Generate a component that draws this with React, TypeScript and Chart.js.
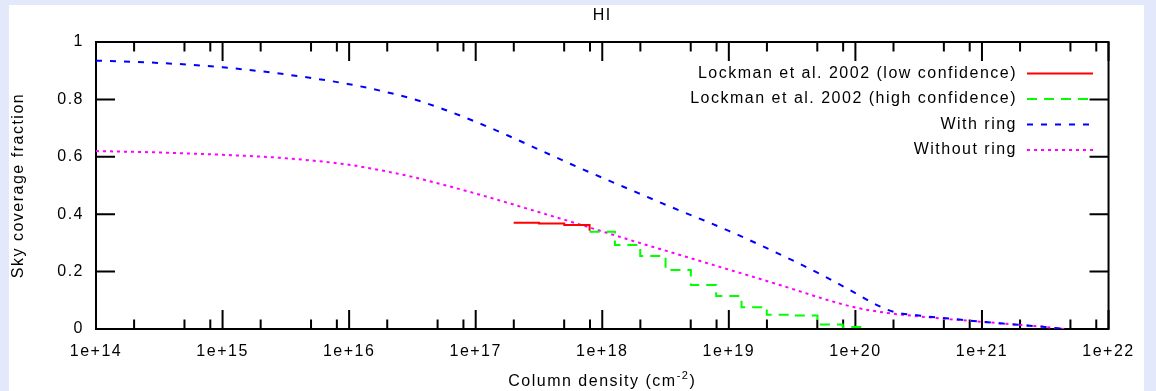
import React, { useEffect, useRef } from "react";
import { Chart, registerables } from "chart.js";

Chart.register(...registerables);

const FONT_FAMILY = '"Liberation Sans", Arial, Helvetica, sans-serif';
const FONT_SIZE = 16;
const LETTER_SPACING = "1.5px";

const titleText = "HI";
const xAxisTitle = "Column density (cm";
const xAxisTitleSup = "-2";
const xAxisTitleEnd = ")";
const yAxisTitle = "Sky coverage fraction";

// Axis ticks: decades of column density, minor marks at 2, 5 and 8 of each decade
const xDecades = [14, 15, 16, 17, 18, 19, 20, 21, 22];
const xMinorMantissas = [2, 5, 8];
const yTickValues = [0, 0.2, 0.4, 0.6, 0.8, 1];

const seriesLabels = [
  "Lockman et al. 2002 (low confidence)",
  "Lockman et al. 2002 (high confidence)",
  "With ring",
  "Without ring",
];

// Lockman et al. (2002): log10 N(HI) bin starts and sky coverage fraction
const lowConfLogN = [17.3, 17.5, 17.7, 17.9];
const lowConfFrac = [0.37, 0.368, 0.362, 0.342];
const highConfLogN = [17.9, 18.1, 18.3, 18.5, 18.7, 18.9, 19.1, 19.3, 19.5, 19.7, 19.9, 20.1];
const highConfFrac = [0.339, 0.293, 0.254, 0.206, 0.153, 0.115, 0.076, 0.05, 0.047, 0.016, 0.007, 0.007];

// Model curves
const withRingLogN = [
  14.0, 14.5, 15.0, 15.5, 16.0, 16.25, 16.5, 16.75, 17.0, 17.25, 17.5, 17.75, 18.0, 18.25,
  18.5, 18.75, 19.0, 19.25, 19.5, 19.75, 20.0, 20.15, 20.3, 20.5, 20.75, 21.0, 21.25, 21.5, 21.65,
];
const withRingFrac = [
  0.935, 0.927, 0.912, 0.887, 0.853, 0.83, 0.802, 0.765, 0.722, 0.675, 0.625, 0.575, 0.527, 0.48,
  0.433, 0.388, 0.342, 0.292, 0.24, 0.185, 0.125, 0.088, 0.06, 0.047, 0.036, 0.025, 0.016, 0.007, 0.0,
];
const withoutRingLogN = [
  14.0, 14.5, 15.0, 15.5, 16.0, 16.25, 16.5, 16.75, 17.0, 17.25, 17.5, 17.75, 18.0, 18.25,
  18.5, 18.75, 19.0, 19.25, 19.5, 19.75, 20.0, 20.25, 20.5, 20.75, 21.0, 21.25, 21.5, 21.65,
];
const withoutRingFrac = [
  0.62, 0.615, 0.607, 0.595, 0.572, 0.553, 0.53, 0.502, 0.472, 0.44, 0.407, 0.374, 0.34, 0.306,
  0.273, 0.24, 0.207, 0.174, 0.14, 0.105, 0.075, 0.056, 0.044, 0.034, 0.025, 0.016, 0.007, 0.0,
];

const seriesColors = ["#ff0000", "#00ff00", "#0000ff", "#ff00ff"];
const seriesDashes: number[][] = [[], [10, 7], [6, 8], [3, 4]];

const CANVAS_W = 1135;
const CANVAS_H = 386;
const MAJOR_TICK = 19;
const MINOR_TICK = 9.5;

const toPoints = (logN: number[], frac: number[]) =>
  logN.map((e, i) => ({ x: Math.pow(10, e), y: frac[i] }));

const font = (size = FONT_SIZE) => `${size}px ${FONT_FAMILY}`;

const framePlugin = {
  id: "gnuFrame",
  beforeDraw(chart: any) {
    chart.ctx.letterSpacing = LETTER_SPACING;
  },
  beforeDatasetsDraw(chart: any) {
    const { ctx, chartArea: a, scales } = chart;
    const xs = scales.x;
    const ys = scales.y;
    ctx.save();
    ctx.strokeStyle = "#000";
    ctx.lineWidth = 2;
    ctx.setLineDash([]);
    ctx.beginPath();
    xDecades.forEach((e, i) => {
      const px = xs.getPixelForValue(Math.pow(10, e));
      ctx.moveTo(px, a.bottom);
      ctx.lineTo(px, a.bottom - MAJOR_TICK);
      ctx.moveTo(px, a.top);
      ctx.lineTo(px, a.top + MAJOR_TICK);
      if (i < xDecades.length - 1) {
        xMinorMantissas.forEach((m) => {
          const mx = xs.getPixelForValue(m * Math.pow(10, e));
          ctx.moveTo(mx, a.bottom);
          ctx.lineTo(mx, a.bottom - MINOR_TICK);
          ctx.moveTo(mx, a.top);
          ctx.lineTo(mx, a.top + MINOR_TICK);
        });
      }
    });
    yTickValues.forEach((v) => {
      const py = ys.getPixelForValue(v);
      ctx.moveTo(a.left, py);
      ctx.lineTo(a.left + MAJOR_TICK, py);
      ctx.moveTo(a.right, py);
      ctx.lineTo(a.right - MAJOR_TICK, py);
    });
    ctx.stroke();
    ctx.strokeRect(a.left, a.top, a.right - a.left, a.bottom - a.top);
    ctx.restore();
  },
  afterDraw(chart: any) {
    const { ctx, chartArea: a } = chart;
    const cx = (a.left + a.right) / 2;
    ctx.save();
    ctx.letterSpacing = LETTER_SPACING;
    ctx.fillStyle = "#000";
    ctx.font = font();
    ctx.textBaseline = "alphabetic";

    // Title
    ctx.textAlign = "center";
    ctx.fillText(titleText, cx, 15);

    // X axis title with superscript
    ctx.textAlign = "left";
    ctx.font = font();
    const w1 = ctx.measureText(xAxisTitle).width;
    const w3 = ctx.measureText(xAxisTitleEnd).width;
    ctx.font = font(11);
    const w2 = ctx.measureText(xAxisTitleSup).width;
    let x0 = cx - (w1 + w2 + w3) / 2;
    const base = 381;
    ctx.font = font();
    ctx.fillText(xAxisTitle, x0, base);
    x0 += w1;
    ctx.font = font(11);
    ctx.fillText(xAxisTitleSup, x0, base - 7);
    x0 += w2;
    ctx.font = font();
    ctx.fillText(xAxisTitleEnd, x0, base);

    // Y axis title
    ctx.save();
    ctx.translate(14, (a.top + a.bottom) / 2);
    ctx.rotate(-Math.PI / 2);
    ctx.textAlign = "center";
    ctx.fillText(yAxisTitle, 0, 0);
    ctx.restore();

    // Key
    const rows = [31.5, 57, 82.5, 108];
    const textRight = 1008;
    const lineX1 = 1018;
    const lineX2 = 1084;
    chart.data.datasets.forEach((ds: any, i: number) => {
      const y = a.top + rows[i];
      ctx.textAlign = "right";
      ctx.textBaseline = "middle";
      ctx.font = font();
      ctx.fillText(ds.label, textRight, y);
      ctx.beginPath();
      ctx.strokeStyle = ds.borderColor;
      ctx.lineWidth = 2;
      ctx.setLineDash(ds.borderDash || []);
      ctx.moveTo(lineX1, y);
      ctx.lineTo(lineX2, y);
      ctx.stroke();
    });
    ctx.restore();
  },
};

export default function App() {
  const canvasRef = useRef<HTMLCanvasElement | null>(null);

  useEffect(() => {
    const canvas = canvasRef.current;
    if (!canvas) return;
    const series = [
      toPoints(lowConfLogN, lowConfFrac),
      toPoints(highConfLogN, highConfFrac),
      toPoints(withRingLogN, withRingFrac),
      toPoints(withoutRingLogN, withoutRingFrac),
    ];
    const chart = new Chart(canvas, {
      type: "line",
      data: {
        datasets: series.map((data, i) => ({
          label: seriesLabels[i],
          data,
          borderColor: seriesColors[i],
          backgroundColor: seriesColors[i],
          borderWidth: 2,
          borderDash: seriesDashes[i],
          pointRadius: 0,
          fill: false,
          stepped: i < 2 ? "before" : false,
          cubicInterpolationMode: i < 2 ? "default" : "monotone",
        })),
      } as any,
      options: {
        animation: false,
        responsive: false,
        devicePixelRatio: 1,
        layout: { padding: { left: 0, right: 29, top: 37, bottom: 0 } },
        plugins: {
          legend: { display: false },
          tooltip: { enabled: false },
          title: { display: false },
        },
        scales: {
          x: {
            type: "logarithmic",
            min: 1e14,
            max: 1e22,
            position: "bottom",
            grid: { display: false, drawTicks: false },
            border: { display: false },
            afterBuildTicks: (scale: any) => {
              scale.ticks = xDecades.map((e) => ({ value: Math.pow(10, e) }));
            },
            afterFit: (scale: any) => {
              scale.height = CANVAS_H - 324;
            },
            ticks: {
              autoSkip: false,
              maxRotation: 0,
              minRotation: 0,
              padding: 13,
              color: "#000",
              font: { family: FONT_FAMILY, size: FONT_SIZE },
              callback: (v: any) => `1e+${Math.round(Math.log10(Number(v)))}`,
            },
          },
          y: {
            type: "linear",
            min: 0,
            max: 1,
            grid: { display: false, drawTicks: false },
            border: { display: false },
            afterBuildTicks: (scale: any) => {
              scale.ticks = yTickValues.map((v) => ({ value: v }));
            },
            afterFit: (scale: any) => {
              scale.width = 87;
            },
            ticks: {
              padding: 12,
              color: "#000",
              font: { family: FONT_FAMILY, size: FONT_SIZE },
              callback: (v: any) => String(v),
            },
          },
        },
      } as any,
      plugins: [framePlugin],
    });
    return () => chart.destroy();
  }, []);

  return (
    <div style={{ position: "fixed", inset: 0, background: "rgb(227,232,250)" }}>
      <div
        style={{
          position: "absolute",
          left: 9,
          top: 5,
          width: CANVAS_W,
          height: CANVAS_H,
          background: "#ffffff",
        }}
      >
        <canvas ref={canvasRef} width={CANVAS_W} height={CANVAS_H} style={{ display: "block" }} />
      </div>
    </div>
  );
}
